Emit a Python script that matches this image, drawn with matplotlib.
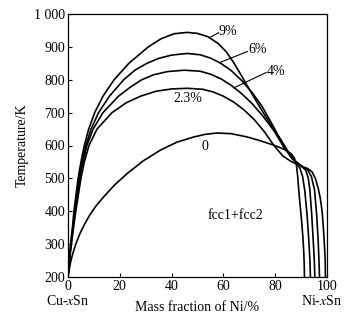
import matplotlib
matplotlib.use("Agg")
import matplotlib.pyplot as plt

# ---- data (mass fraction of Ni / %, temperature / K) ----
x_0 = [0, 0.4, 1.0, 1.8, 3.0, 4.6, 6.5, 8.5, 11, 13.8, 18, 22.9, 29, 35.7, 42, 48.6, 53, 57.6, 63, 69.2, 74, 79.5, 83, 86, 87.4, 88.2, 88.7, 89.1, 89.6, 90.2, 90.7, 91.0, 91.2, 91.3]
t_0 = [200, 220, 245, 270, 300, 332, 362, 390, 418, 444, 480, 515, 553, 586, 610, 626, 634, 638, 636, 626, 615, 601, 590, 576, 562, 540, 505, 464, 420, 370, 320, 280, 240, 200]

x_23 = [0, 0.3, 0.7, 1.3, 2.1, 3.0, 4.0, 5.0, 6.3, 8.1, 11.2, 17, 22.5, 28, 34, 40, 46, 52, 56, 60, 64, 68, 72, 76, 79.5, 83, 86, 88, 89.5, 90.6, 91.4, 92.3, 93.0, 93.4, 93.6]
t_23 = [200, 225, 260, 300, 350, 400, 450, 500, 550, 600, 650, 700, 730, 750, 765, 772, 774, 771, 763, 750, 732, 708, 678, 640, 600, 568, 552, 545, 532, 505, 464, 390, 309, 250, 200]

x_4 = [0, 0.3, 0.7, 1.2, 2.0, 2.8, 3.7, 4.6, 5.8, 7.3, 9.7, 13.5, 19.5, 24.5, 28.5, 33, 38.5, 45, 51, 55, 59, 63, 67, 71, 75, 79.5, 83, 86.5, 88, 90, 91.8, 92.8, 93.4, 94.1, 94.7, 95.1, 95.3]
t_4 = [200, 225, 262, 300, 350, 400, 450, 500, 550, 600, 650, 700, 750, 780, 800, 815, 825, 829, 826, 817, 803, 783, 758, 728, 692, 645, 600, 560, 550, 538, 525, 500, 464, 390, 309, 250, 200]

x_6 = [0, 0.3, 0.6, 1.1, 1.9, 2.6, 3.5, 4.3, 5.5, 6.9, 8.9, 11.8, 16, 21.5, 26, 30.5, 35, 40, 46, 51, 55, 59, 63, 67, 71, 75, 79.5, 83, 86.5, 88.5, 90.5, 92.5, 94, 95.2, 96, 96.6, 96.9, 97.1]
t_6 = [200, 228, 262, 300, 350, 400, 450, 500, 550, 600, 650, 700, 750, 800, 830, 850, 865, 875, 880, 876, 866, 850, 828, 798, 762, 718, 655, 600, 562, 548, 535, 527, 505, 464, 390, 309, 250, 200]

x_9 = [0, 0.25, 0.6, 1.0, 1.7, 2.3, 3.1, 3.9, 5.0, 6.3, 8.0, 10.3, 13.5, 17.8, 23.5, 31, 36, 41, 46, 50, 54, 58, 61, 64, 67, 70, 73, 76, 79.5, 82, 84.5, 86.5, 88.5, 90.5, 92.5, 94.2, 95.5, 96.6, 97.4, 98.1, 98.6, 99.0, 99.3, 99.4]
t_9 = [200, 230, 265, 300, 350, 400, 450, 500, 550, 600, 650, 700, 750, 800, 850, 900, 925, 940, 944, 941, 931, 910, 886, 852, 812, 771, 731, 692, 650, 620, 588, 562, 546, 536, 530, 520, 500, 470, 440, 400, 350, 300, 250, 200]

series = [(x_0, t_0), (x_23, t_23), (x_4, t_4), (x_6, t_6), (x_9, t_9)]

yticks = [200, 300, 400, 500, 600, 700, 800, 900, 1000]
ytick_labels = ["200", "300", "400", "500", "600", "700", "800", "900", "1 000"]
xticks = [0, 20, 40, 60, 80, 100]
xtick_labels = ["0", "20", "40", "60", "80", "100"]

plt.rcParams['font.family'] = ['Liberation Serif', 'DejaVu Serif']
plt.rcParams['mathtext.fontset'] = 'stix'

fig = plt.figure(figsize=(3.49, 3.19), dpi=100)
ax = fig.add_axes([68 / 349, (319 - 277) / 319, (327 - 68) / 349, (277 - 14) / 319])

for xs, ts in series:
    ax.plot(xs, ts, color='black', lw=1.2, solid_joinstyle='round', solid_capstyle='round')

ax.set_xlim(0, 100)
ax.set_ylim(200, 1000)
ax.set_xticks(xticks)
ax.set_xticklabels(xtick_labels)
ax.set_yticks(yticks)
ax.set_yticklabels(ytick_labels)
ax.tick_params(direction='in', length=3, width=0.8, labelsize=10, pad=2)
for s in ax.spines.values():
    s.set_linewidth(0.9)

ax.set_xlabel("Mass fraction of Ni/%", fontsize=10, labelpad=6)
ax.set_ylabel("Temperature/K", fontsize=10, labelpad=4)

# composition end labels
ax.text(0, -0.09, "Cu-$\\mathit{x}$Sn", transform=ax.transAxes, ha='center', va='center', fontsize=10)
ax.text(0.98, -0.09, "Ni-$\\mathit{x}$Sn", transform=ax.transAxes, ha='center', va='center', fontsize=10)

# curve labels
ax.text(52.8, 598, "0", ha='center', va='center', fontsize=10)
ax.text(46.1, 744, "2.3%", ha='center', va='center', fontsize=10)
ax.text(58.3, 948, "9%", ha='left', va='center', fontsize=10)
ax.text(69.5, 892, "6%", ha='left', va='center', fontsize=10)
ax.text(76.7, 826, "4%", ha='left', va='center', fontsize=10)
ax.plot([54.8, 58.2], [929, 943], color='black', lw=0.8)
ax.plot([58.5, 69.3], [852, 886], color='black', lw=0.8)
ax.plot([64.5, 76.5], [777, 822], color='black', lw=0.8)
ax.text(64.7, 388, "fcc1+fcc2", ha='center', va='center', fontsize=10)

fig.savefig("out.png", dpi=100)
